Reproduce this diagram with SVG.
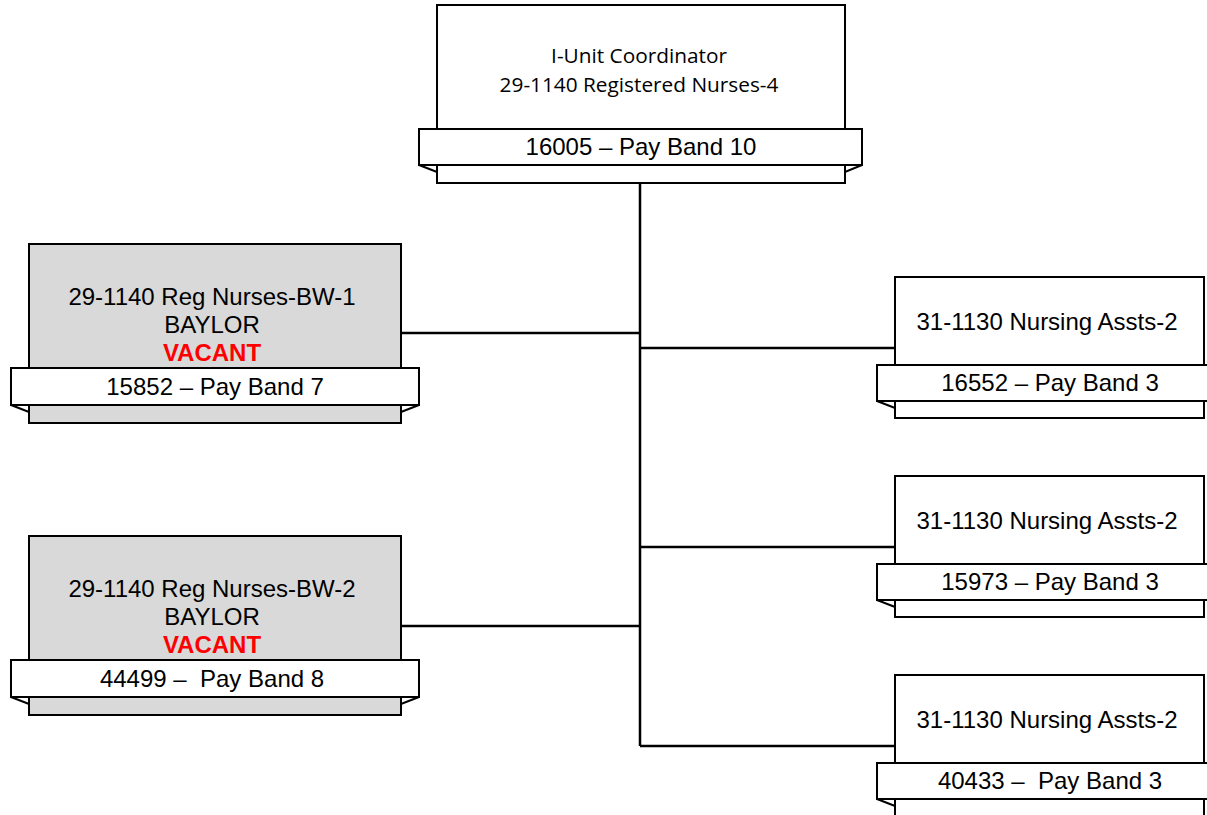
<svg xmlns="http://www.w3.org/2000/svg" width="1207" height="815" viewBox="0 0 1207 815">
<style>
.box{stroke:#000;stroke-width:2}
.w{fill:#fff}
.g{fill:#d9d9d9}
.ban{fill:#fff;stroke:#000;stroke-width:2}
.t{font-family:"Liberation Sans",Arial,sans-serif;font-size:24px;fill:#000;text-anchor:middle}
.c{font-family:"Open Sans","Liberation Sans",sans-serif;font-size:20.8px;fill:#000;text-anchor:middle}
.v{font-family:"Liberation Sans",Arial,sans-serif;font-size:24px;font-weight:bold;fill:#ff0000;text-anchor:middle}
.ln{stroke:#000;stroke-width:2.5;fill:none}
</style>
<rect width="1207" height="815" fill="#fff"/>
<g id="connectors">
<path class="ln" d="M640 183V746M401 333H640M640 348H895M640 547H895M401 626H640M640 746H895"/>
</g>
<g id="top">
<rect class="box w" x="437" y="5" width="408" height="178"/>
<polygon class="ban" points="419,165 437,165 437,172"/>
<polygon class="ban" points="862,165 845,165 845,172"/>
<rect class="ban" x="419" y="129" width="443" height="36"/>
<text class="c" x="639" y="63">I-Unit Coordinator</text>
<text class="c" x="639" y="92">29-1140 Registered Nurses-4</text>
<text class="t" x="641" y="155">16005 – Pay Band 10</text>
</g>
<g id="bw1">
<rect class="box g" x="29" y="244" width="372" height="179"/>
<polygon class="ban" points="11,405 29,405 29,412"/>
<polygon class="ban" points="419,405 401,405 401,412"/>
<rect class="ban" x="11" y="368" width="408" height="37"/>
<text class="t" x="212" y="305">29-1140 Reg Nurses-BW-1</text>
<text class="t" x="212" y="333">BAYLOR</text>
<text class="v" x="212" y="361">VACANT</text>
<text class="t" x="215" y="395">15852 – Pay Band 7</text>
</g>
<g id="bw2">
<rect class="box g" x="29" y="536" width="372" height="179"/>
<polygon class="ban" points="11,697 29,697 29,704"/>
<polygon class="ban" points="419,697 401,697 401,704"/>
<rect class="ban" x="11" y="660" width="408" height="37"/>
<text class="t" x="212" y="597">29-1140 Reg Nurses-BW-2</text>
<text class="t" x="212" y="625">BAYLOR</text>
<text class="v" x="212" y="653">VACANT</text>
<text class="t" x="212" y="687" xml:space="preserve">44499 –  Pay Band 8</text>
</g>
<g id="na1">
<rect class="box w" x="895" y="277" width="309" height="141"/>
<polygon class="ban" points="877,401 895,401 895,408"/>
<rect class="ban" x="877" y="365" width="332" height="36"/>
<text class="t" x="1047" y="330">31-1130 Nursing Assts-2</text>
<text class="t" x="1050" y="391">16552 – Pay Band 3</text>
</g>
<g id="na2">
<rect class="box w" x="895" y="476" width="309" height="141"/>
<polygon class="ban" points="877,600 895,600 895,607"/>
<rect class="ban" x="877" y="564" width="332" height="36"/>
<text class="t" x="1047" y="529">31-1130 Nursing Assts-2</text>
<text class="t" x="1050" y="590">15973 – Pay Band 3</text>
</g>
<g id="na3">
<rect class="box w" x="895" y="675" width="309" height="150"/>
<polygon class="ban" points="877,799 895,799 895,806"/>
<rect class="ban" x="877" y="763" width="332" height="36"/>
<text class="t" x="1047" y="728">31-1130 Nursing Assts-2</text>
<text class="t" x="1050" y="789" xml:space="preserve">40433 –  Pay Band 3</text>
</g>
</svg>
